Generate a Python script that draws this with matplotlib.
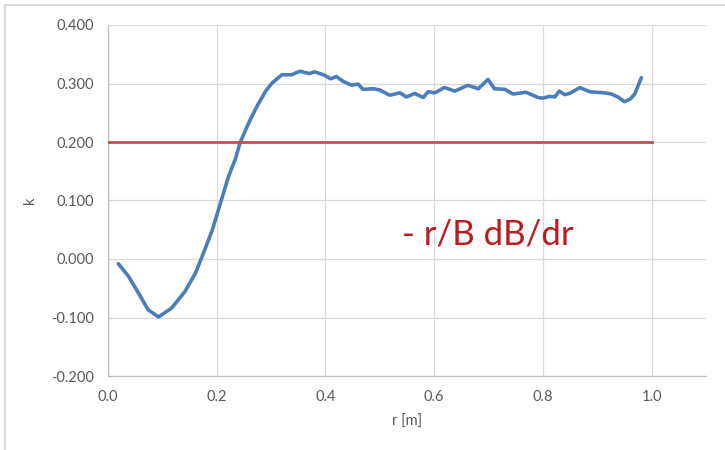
import numpy as np
import matplotlib
matplotlib.use("Agg")
import matplotlib.pyplot as plt
from matplotlib.lines import Line2D

plt.rcParams['font.family'] = ['Lato', 'DejaVu Sans']

# Measured field index k = -r/B dB/dr along the radius
r = [0.019, 0.038, 0.056, 0.074, 0.093, 0.117, 0.142, 0.161, 0.176, 0.192,
     0.207, 0.222, 0.234, 0.243, 0.259, 0.274, 0.290, 0.302, 0.320, 0.338,
     0.353, 0.370, 0.380, 0.396, 0.410, 0.420, 0.432, 0.448, 0.460, 0.469,
     0.488, 0.500, 0.518, 0.537, 0.549, 0.564, 0.580, 0.589, 0.601, 0.619,
     0.638, 0.662, 0.681, 0.699, 0.711, 0.730, 0.745, 0.769, 0.791, 0.800,
     0.812, 0.822, 0.830, 0.840, 0.849, 0.868, 0.886, 0.898, 0.914, 0.926,
     0.938, 0.950, 0.960, 0.969, 0.981]
k = [-0.008, -0.030, -0.058, -0.087, -0.099, -0.084, -0.055, -0.024, 0.011, 0.050,
     0.096, 0.142, 0.170, 0.199, 0.233, 0.261, 0.287, 0.301, 0.315, 0.315,
     0.321, 0.317, 0.320, 0.315, 0.308, 0.312, 0.304, 0.297, 0.299, 0.290,
     0.291, 0.289, 0.280, 0.284, 0.277, 0.283, 0.276, 0.286, 0.284, 0.293,
     0.287, 0.297, 0.291, 0.307, 0.291, 0.290, 0.282, 0.285, 0.276, 0.275,
     0.278, 0.277, 0.287, 0.281, 0.283, 0.293, 0.286, 0.285, 0.284, 0.282,
     0.277, 0.269, 0.273, 0.282, 0.310]

# Reference level
ref_r = [0.0, 1.0]
ref_k = [0.2, 0.2]

fig = plt.figure(figsize=(7.25, 4.5), dpi=100)
ax = fig.add_axes([108 / 725, 1 - 376 / 450, 598 / 725, 351 / 450])

ax.plot(r, k, color='#4a7ebb', lw=2.6, solid_joinstyle='round',
        solid_capstyle='round', zorder=3)
ax.plot(ref_r, ref_k, color='#c0504d', lw=2.0, zorder=3)

ax.set_xlim(0, 1.1)
ax.set_ylim(-0.2, 0.4)
ax.set_xticks(np.arange(0, 1.01, 0.2))
ax.set_yticks(np.arange(-0.2, 0.401, 0.1))
ax.xaxis.set_major_formatter(plt.FormatStrFormatter('%.1f'))
ax.yaxis.set_major_formatter(plt.FormatStrFormatter('%.3f'))
ax.grid(True, color='#d9d9d9', lw=0.9)
ax.set_axisbelow(True)
ax.tick_params(length=0, labelsize=10.5, labelcolor='#595959', pad=10)

for side in ['top', 'right']:
    ax.spines[side].set_visible(False)
for side in ['left', 'bottom']:
    ax.spines[side].set_color('#bfbfbf')
    ax.spines[side].set_linewidth(0.9)

ax.set_xlabel('r [m]', fontsize=10.5, color='#595959', labelpad=8)
ax.set_ylabel('k', fontsize=10.5, color='#595959', labelpad=10)

ax.text(0.540, 0.024, '- r/B dB/dr', fontsize=25, color='#b81c1c',
        ha='left', va='baseline')

# chart area border
fig.add_artist(Line2D([5 / 725, 1], [1 - 5 / 450, 1 - 5 / 450],
                      transform=fig.transFigure, color='#d9d9d9', lw=1.5))
fig.add_artist(Line2D([5 / 725, 5 / 725], [0, 1 - 5 / 450],
                      transform=fig.transFigure, color='#d9d9d9', lw=1.5))

fig.savefig('out.png', dpi=100)
